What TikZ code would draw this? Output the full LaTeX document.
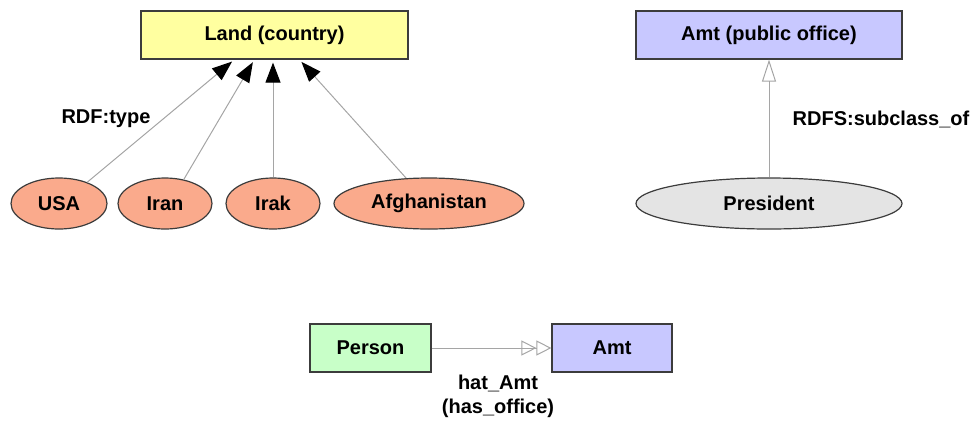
\documentclass[tikz,border=0pt]{standalone}
\usepackage{fontspec}
\setmainfont{Liberation Sans}
\usetikzlibrary{arrows.meta,calc,shapes.geometric}
\definecolor{landfill}{RGB}{255,255,160}
\definecolor{amtfill}{RGB}{200,200,255}
\definecolor{personfill}{RGB}{200,255,200}
\definecolor{countryfill}{RGB}{250,170,140}
\definecolor{presfill}{RGB}{228,228,228}
\definecolor{outline}{RGB}{60,60,60}
\definecolor{linkgray}{RGB}{165,165,165}
\tikzset{
  lbl/.style={font=\fontsize{20}{24}\selectfont\bfseries},
  classbox/.style={lbl, draw=outline, line width=1.2pt, rectangle, inner sep=0pt,
    minimum width=#1, minimum height=48pt},
  instance/.style={lbl, draw=outline, line width=1.2pt, ellipse, inner sep=0pt,
    minimum width=#1, minimum height=51pt},
  link/.style={draw=linkgray, line width=1pt},
  isa/.style={link, -{Triangle[length=20pt,width=15pt,fill=black,color=black]}},
  subclass/.style={link, -{Triangle[open,length=22pt,width=14pt,color=linkgray]}},
  relation/.style={link, -{Triangle[open,length=15pt,width=15pt,color=linkgray]
    Triangle[open,length=15pt,width=15pt,color=linkgray]}},
}
\begin{document}
\begin{tikzpicture}[x=1pt,y=-1pt]
\useasboundingbox (0,0) rectangle (973,421);

% classes
\node[classbox=267pt, fill=landfill] (land) at (274.5,35) {Land (country)};
\node[classbox=266pt, fill=amtfill] (office) at (769,35) {Amt (public office)};
\node[classbox=121pt, fill=personfill] (person) at (370.5,348) {Person};
\node[classbox=120pt, fill=amtfill] (amt) at (612,348) {Amt};

% instances
\node[instance=96pt, fill=countryfill] (usa) at (59,203.5) {USA};
\node[instance=94pt, fill=countryfill] (iran) at (165,203.5) {Iran};
\node[instance=94pt, fill=countryfill] (irak) at (273,203.5) {Irak};
\node[instance=190pt, fill=countryfill] (afg) at (429,203.5) {Afghanistan};
\node[instance=266pt, fill=presfill] (pres) at (769,203.5) {President};

% rdf:type links
\draw[isa, shorten >=3pt] (usa.37) -- ($(land.south west)+(94,0)$);
\draw[isa, shorten >=3pt] (iran.52) -- ($(land.south west)+(114,0)$);
\draw[isa, shorten >=3pt] (irak.north) -- (irak.north |- land.south);
\draw[isa, shorten >=3pt] (afg.132) -- ($(land.south west)+(159,0)$);

% subclass and property links
\draw[subclass] (pres.north) -- (office.south);
\draw[relation] (person.east) -- (amt.west);

% labels
\node[lbl] (typelbl) at (106,119) {RDF:type};
\node[lbl] (sublbl) at (881,119) {RDFS:subclass\_of};
\node[lbl, align=center, inner sep=0pt] (rellbl) at (498,396) {hat\_Amt\\(has\_office)};
\end{tikzpicture}
\end{document}
